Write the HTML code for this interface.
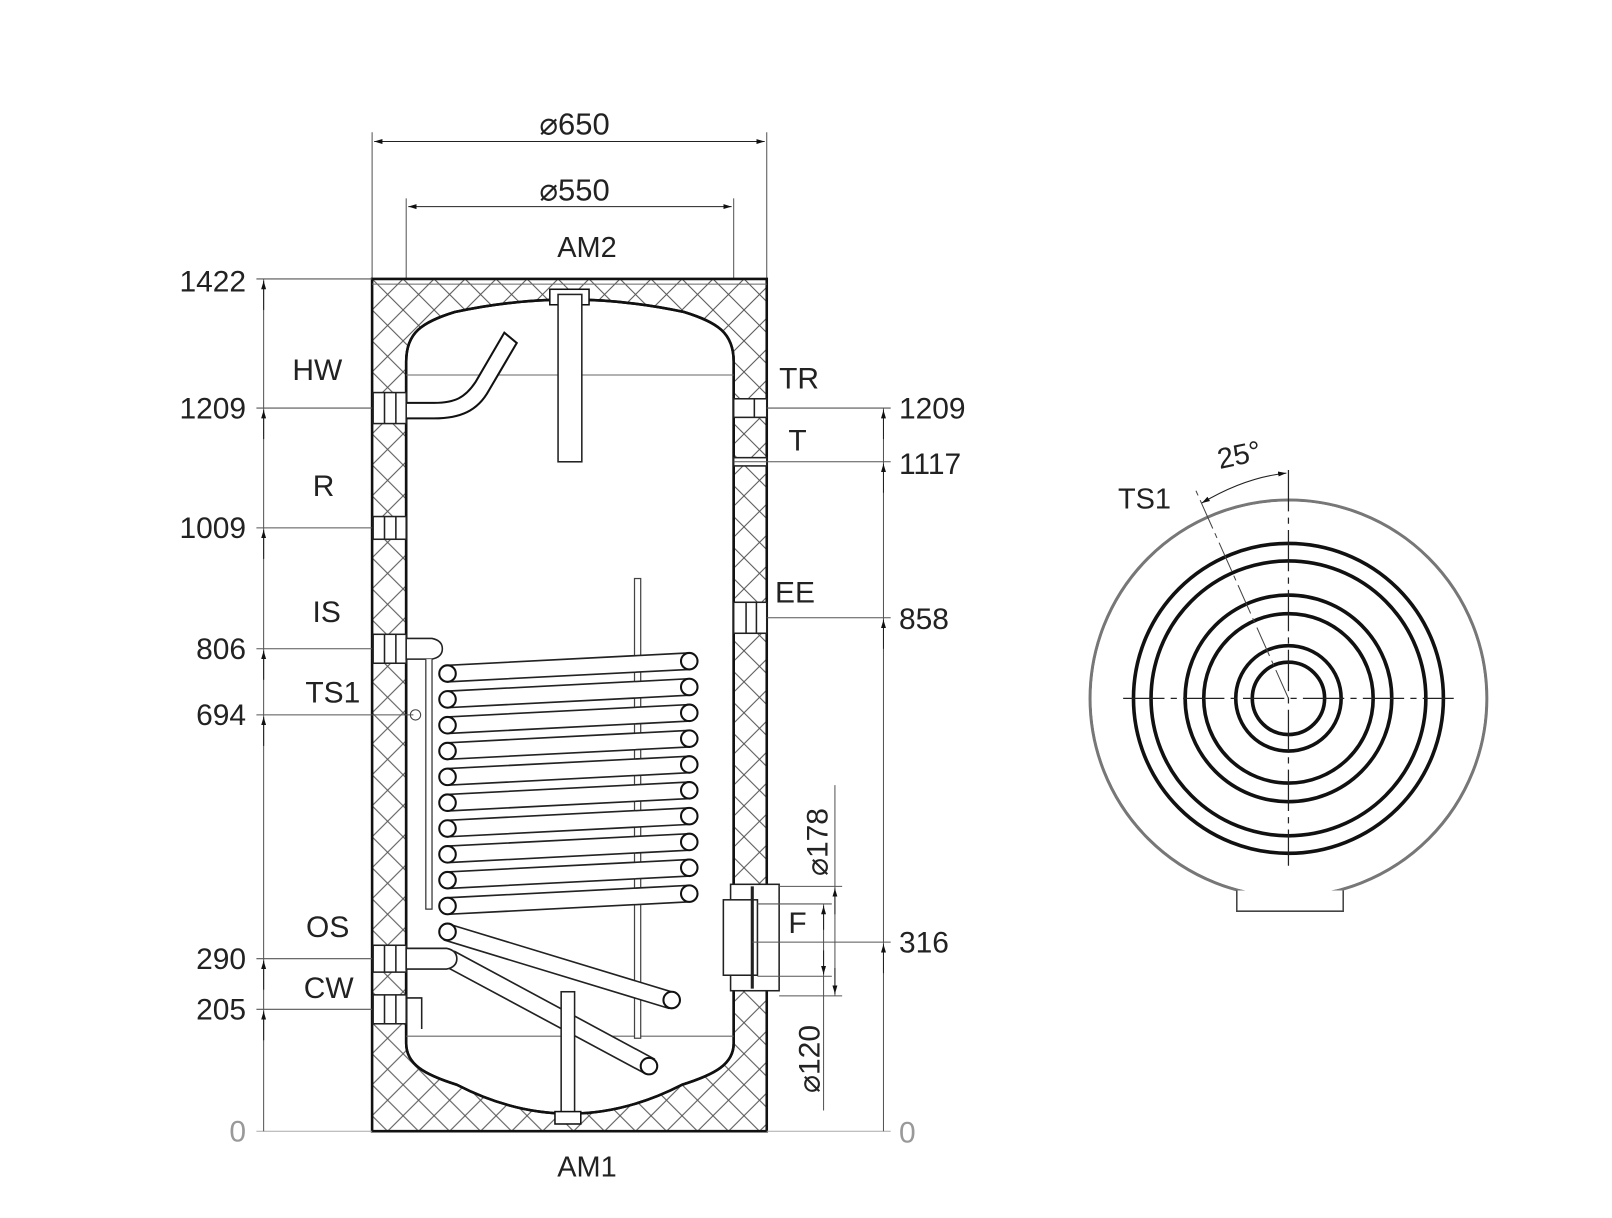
<!DOCTYPE html>
<html><head><meta charset="utf-8"><style>
html,body{margin:0;padding:0;background:#fff}
svg{display:block}
text{font-family:"Liberation Sans",Arial,sans-serif;fill:#222}
</style></head><body>
<svg width="1612" height="1218" viewBox="0 0 1560 1179" xmlns="http://www.w3.org/2000/svg">
<defs>
<pattern id="h" width="30" height="30" patternUnits="userSpaceOnUse">
<path d="M0,0 L30,30 M30,0 L0,30" stroke="#555" stroke-width="1"/>
</pattern>
<marker id="a" viewBox="0 0 10 10" refX="10" refY="5" markerWidth="8" markerHeight="14" orient="auto-start-reverse" markerUnits="userSpaceOnUse">
<path d="M0,2 L10,5 L0,8 Z" fill="#111"/>
</marker>
</defs>

<g stroke="#555" stroke-width="1" fill="none">
<line x1="360" y1="128" x2="360" y2="270"/><line x1="742" y1="128" x2="742" y2="270"/>
<line x1="393" y1="192" x2="393" y2="270"/><line x1="710" y1="192" x2="710" y2="270"/>
<line x1="362" y1="137" x2="740" y2="137" marker-start="url(#a)" marker-end="url(#a)" stroke="#222"/>
<line x1="395" y1="200" x2="708" y2="200" marker-start="url(#a)" marker-end="url(#a)" stroke="#222"/>
</g>
<text x="556" y="130" font-size="30" text-anchor="middle">⌀650</text>
<text x="556" y="194" font-size="30" text-anchor="middle">⌀550</text>
<text x="568" y="249" font-size="28" text-anchor="middle">AM2</text>
<text x="568" y="1139" font-size="28" text-anchor="middle">AM1</text>

<path fill-rule="evenodd" fill="url(#h)" stroke="#111" stroke-width="2.5"
d="M360,270 L742,270 L742,1095 L360,1095 Z
M393,1010 L393,350 C393,322 408,312 440,302 Q551,278 662,302 C694,312 710,322 710,350 L710,1010 C710,1030 692,1040 660,1050 Q551,1106 442,1050 C410,1040 393,1030 393,1010 Z"/>
<path fill="none" stroke="#111" stroke-width="2.5" d="M393,1010 L393,350 C393,322 408,312 440,302 Q551,278 662,302 C694,312 710,322 710,350 L710,1010 C710,1030 692,1040 660,1050 Q551,1106 442,1050 C410,1040 393,1030 393,1010 Z"/>
<line x1="393" y1="363" x2="710" y2="363" stroke="#666" stroke-width="1"/>
<line x1="393" y1="1003" x2="710" y2="1003" stroke="#666" stroke-width="1"/>
<line x1="360" y1="275" x2="742" y2="275" stroke="#666" stroke-width="1"/>

<rect x="532" y="280" width="38" height="15" fill="#fff" stroke="#111" stroke-width="1.5"/>
<rect x="540" y="285" width="23" height="162" fill="#fff" stroke="#222" stroke-width="1.5"/>
<path d="M392,390 L420,390 C440,390 450,385 460,370 L488,322 L500,332 L473,378 C462,398 445,405 420,405 L392,405 Z" fill="#fff" stroke="#111" stroke-width="2"/>

<g fill="#fff" stroke="#222" stroke-width="1.5">
<rect x="361" y="380" width="32" height="30"/><line x1="372" y1="380" x2="372" y2="410"/><line x1="383" y1="380" x2="383" y2="410"/>
<rect x="361" y="500" width="32" height="22"/><line x1="372" y1="500" x2="372" y2="522"/><line x1="383" y1="500" x2="383" y2="522"/>
<rect x="361" y="614" width="32" height="28"/><line x1="372" y1="614" x2="372" y2="642"/><line x1="383" y1="614" x2="383" y2="642"/>
<path d="M393,618 L418,618 Q428,620 428,628 Q428,636 418,638 L393,638 Z"/>
<rect x="361" y="915" width="32" height="26"/><line x1="372" y1="915" x2="372" y2="941"/><line x1="383" y1="915" x2="383" y2="941"/>
<rect x="361" y="963" width="32" height="28"/><line x1="372" y1="963" x2="372" y2="991"/><line x1="383" y1="963" x2="383" y2="991"/>
<path d="M393,966 L408,966 L408,996" fill="none"/>
<rect x="710" y="386" width="32" height="18"/><line x1="730" y1="386" x2="730" y2="404"/>
<rect x="710" y="443" width="32" height="8"/>
<rect x="710" y="583" width="32" height="30"/><line x1="722" y1="583" x2="722" y2="613"/><line x1="732" y1="583" x2="732" y2="613"/>
</g>
<path d="M412,638 L412,880 L418,880 L418,638" fill="#fff" stroke="#333" stroke-width="1.2"/>
<circle cx="402" cy="692" r="5" fill="#fff" stroke="#444" stroke-width="1"/>
<rect x="614" y="560" width="6" height="445" fill="#fff" stroke="#444" stroke-width="1.2"/>

<g fill="#fff" stroke="#222" stroke-width="1.6">
<path d="M433,644 L667,632 L667,648 L433,660 Z"/>
<path d="M433,669 L667,657 L667,673 L433,685 Z"/>
<path d="M433,694 L667,682 L667,698 L433,710 Z"/>
<path d="M433,719 L667,707 L667,723 L433,735 Z"/>
<path d="M433,744 L667,732 L667,748 L433,760 Z"/>
<path d="M433,769 L667,757 L667,773 L433,785 Z"/>
<path d="M433,794 L667,782 L667,798 L433,810 Z"/>
<path d="M433,819 L667,807 L667,823 L433,835 Z"/>
<path d="M433,844 L667,832 L667,848 L433,860 Z"/>
<path d="M433,869 L667,857 L667,873 L433,885 Z"/>
<path d="M436,895 L653,961 L647,976 L430,910 Z"/>
<path d="M440,921 L633,1025 L624,1039 L432,936 Z"/>
<path d="M393,918 L432,918 Q442,920 442,928 Q442,936 432,938 L393,938 Z"/>
</g>
<g fill="#fff" stroke="#111" stroke-width="2">
<circle cx="433" cy="652" r="8"/><circle cx="433" cy="677" r="8"/><circle cx="433" cy="702" r="8"/><circle cx="433" cy="727" r="8"/><circle cx="433" cy="752" r="8"/><circle cx="433" cy="777" r="8"/><circle cx="433" cy="802" r="8"/><circle cx="433" cy="827" r="8"/><circle cx="433" cy="852" r="8"/><circle cx="433" cy="877" r="8"/><circle cx="433" cy="902" r="8"/>
<circle cx="667" cy="640" r="8"/><circle cx="667" cy="665" r="8"/><circle cx="667" cy="690" r="8"/><circle cx="667" cy="715" r="8"/><circle cx="667" cy="740" r="8"/><circle cx="667" cy="765" r="8"/><circle cx="667" cy="790" r="8"/><circle cx="667" cy="815" r="8"/><circle cx="667" cy="840" r="8"/><circle cx="667" cy="865" r="8"/>
<circle cx="650" cy="968" r="8"/><circle cx="628" cy="1032" r="8"/>
</g>
<rect x="543" y="960" width="13" height="118" fill="#fff" stroke="#222" stroke-width="1.5"/>
<rect x="537" y="1076" width="25" height="12" fill="#fff" stroke="#111" stroke-width="1.5"/>

<rect x="707" y="856" width="47" height="103" fill="#fff" stroke="#222" stroke-width="1.5"/>
<rect x="700" y="871" width="33" height="73" fill="#fff" stroke="#222" stroke-width="1.5"/>
<line x1="728" y1="858" x2="728" y2="957" stroke="#222" stroke-width="3"/>

<g stroke="#555" stroke-width="1">
<line x1="248" y1="270" x2="360" y2="270"/>
<line x1="248" y1="395" x2="360" y2="395"/>
<line x1="248" y1="511" x2="360" y2="511"/>
<line x1="248" y1="628" x2="360" y2="628"/>
<line x1="248" y1="692" x2="400" y2="692"/>
<line x1="248" y1="928" x2="360" y2="928"/>
<line x1="248" y1="977" x2="360" y2="977"/>
<line x1="248" y1="1095" x2="360" y2="1095" stroke="#aaa"/>
<line x1="255" y1="270" x2="255" y2="1095"/>
</g>
<g stroke="#222" stroke-width="1">
<line x1="255" y1="300" x2="255" y2="272" marker-end="url(#a)"/>
<line x1="255" y1="425" x2="255" y2="397" marker-end="url(#a)"/>
<line x1="255" y1="541" x2="255" y2="513" marker-end="url(#a)"/>
<line x1="255" y1="658" x2="255" y2="630" marker-end="url(#a)"/>
<line x1="255" y1="722" x2="255" y2="694" marker-end="url(#a)"/>
<line x1="255" y1="958" x2="255" y2="930" marker-end="url(#a)"/>
<line x1="255" y1="1007" x2="255" y2="979" marker-end="url(#a)"/>
</g>
<g font-size="29" text-anchor="end">
<text x="238" y="282">1422</text>
<text x="238" y="405">1209</text>
<text x="238" y="521">1009</text>
<text x="238" y="638">806</text>
<text x="238" y="702">694</text>
<text x="238" y="938">290</text>
<text x="238" y="987">205</text>
<text x="238" y="1105" style="fill:#999">0</text>
</g>
<g font-size="29" text-anchor="middle">
<text x="307" y="368">HW</text>
<text x="313" y="480">R</text>
<text x="316" y="602">IS</text>
<text x="322" y="680">TS1</text>
<text x="317" y="907">OS</text>
<text x="318" y="966">CW</text>
</g>

<g stroke="#555" stroke-width="1">
<line x1="742" y1="395" x2="862" y2="395"/>
<line x1="710" y1="447" x2="862" y2="447"/>
<line x1="742" y1="598" x2="862" y2="598"/>
<line x1="728" y1="912" x2="862" y2="912"/>
<line x1="742" y1="1095" x2="862" y2="1095" stroke="#aaa"/>
<line x1="855" y1="395" x2="855" y2="1095"/>
<line x1="754" y1="858" x2="815" y2="858"/>
<line x1="754" y1="964" x2="815" y2="964"/>
<line x1="733" y1="875" x2="805" y2="875"/>
<line x1="733" y1="945" x2="805" y2="945"/>
<line x1="808" y1="760" x2="808" y2="964"/>
<line x1="797" y1="875" x2="797" y2="1075"/>
</g>
<g stroke="#222" stroke-width="1">
<line x1="855" y1="425" x2="855" y2="397" marker-end="url(#a)"/>
<line x1="855" y1="477" x2="855" y2="449" marker-end="url(#a)"/>
<line x1="855" y1="628" x2="855" y2="600" marker-end="url(#a)"/>
<line x1="855" y1="942" x2="855" y2="914" marker-end="url(#a)"/>
<line x1="808" y1="885" x2="808" y2="860" marker-end="url(#a)"/>
<line x1="808" y1="937" x2="808" y2="962" marker-end="url(#a)"/>
<line x1="797" y1="900" x2="797" y2="877" marker-end="url(#a)"/>
<line x1="797" y1="920" x2="797" y2="943" marker-end="url(#a)"/>
</g>
<g font-size="29">
<text x="870" y="405">1209</text>
<text x="870" y="459">1117</text>
<text x="870" y="609">858</text>
<text x="870" y="922">316</text>
<text x="870" y="1106" style="fill:#999">0</text>
<text x="754" y="376">TR</text>
<text x="763" y="436">T</text>
<text x="750" y="583">EE</text>
<text x="763" y="903">F</text>
</g>
<text font-size="29" transform="translate(801,848) rotate(-90)">⌀178</text>
<text font-size="29" transform="translate(793,1058) rotate(-90)">⌀120</text>

<g fill="none">
<circle cx="1247" cy="676" r="192" stroke="#777" stroke-width="3"/>
<circle cx="1247" cy="676" r="190" stroke="#fff" stroke-width="1"/>
<g stroke="#111" stroke-width="3.5">
<circle cx="1247" cy="676" r="150"/><circle cx="1247" cy="676" r="133"/>
<circle cx="1247" cy="676" r="100"/><circle cx="1247" cy="676" r="82"/>
<circle cx="1247" cy="676" r="51"/><circle cx="1247" cy="676" r="35"/>
</g>
<g stroke="#222" stroke-width="1.2" stroke-dasharray="40,6,6,6">
<line x1="1087" y1="676" x2="1407" y2="676"/>
<line x1="1247" y1="455" x2="1247" y2="838"/>
</g>
<line x1="1247" y1="676" x2="1157" y2="474" stroke="#444" stroke-width="1" stroke-dasharray="30,5,5,5"/>
<path d="M1163,487 Q1205,462 1245,458" stroke="#222" stroke-width="1" marker-start="url(#a)" marker-end="url(#a)"/>
</g>
<path d="M1197,862 L1197,882 L1300,882 L1300,862" fill="#fff" stroke="#444" stroke-width="1.5"/>
<text x="1178" y="450" font-size="28" transform="rotate(-12 1198 440)">25°</text>
<text x="1082" y="492" font-size="28">TS1</text>
</svg>
</body></html>
